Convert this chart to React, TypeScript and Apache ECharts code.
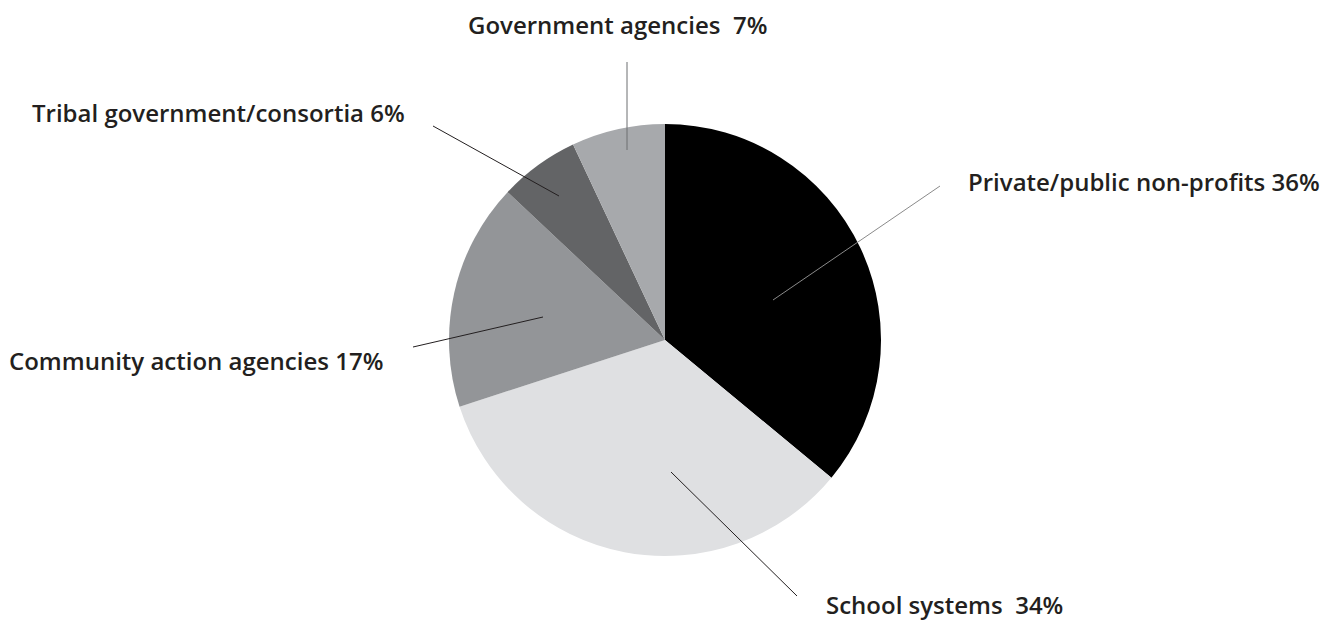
import React, { useEffect, useRef } from "react";
import * as echarts from "echarts";

const categories = [
  "Private/public non-profits",
  "School systems",
  "Community action agencies",
  "Tribal government/consortia",
  "Government agencies",
];
const values = [36, 34, 17, 6, 7];
const gaps = [" ", "  ", " ", " ", "  "];
const sliceColors = ["#000000", "#dfe0e2", "#939598", "#636466", "#a7a9ac"];
const leaderColors = ["#8a8a8a", "#231f20", "#231f20", "#231f20", "#6d6e71"];

// label layout (pixels): text anchor and leader line start/end
const labelPos = [
  [968, 181],
  [826, 604],
  [9, 360],
  [32, 112],
  [468, 24],
];
const lineFrom = [
  [773, 300],
  [671, 472],
  [543, 317],
  [559, 196],
  [627, 150],
];
const lineTo = [
  [940, 186],
  [797, 596],
  [413, 347],
  [433, 126],
  [627, 62],
];

export default function App() {
  const ref = useRef<HTMLDivElement>(null);
  useEffect(() => {
    if (!ref.current) return;
    const chart = echarts.init(ref.current, undefined, { renderer: "svg" });
    const base = {
      type: "pie",
      center: [665, 340],
      radius: [0, 216],
      startAngle: 90,
      clockwise: true,
      silent: true,
      avoidLabelOverlap: false,
    };
    chart.setOption({
      animation: false,
      backgroundColor: "#ffffff",
      series: [
        {
          ...base,
          z: 1,
          itemStyle: { borderWidth: 0 },
          label: { show: false },
          labelLine: { show: false },
          data: categories.map((name, i) => ({
            name,
            value: values[i],
            itemStyle: { color: sliceColors[i] },
          })),
        },
        {
          ...base,
          z: 3,
          itemStyle: { color: "rgba(0,0,0,0)", borderWidth: 0 },
          label: {
            show: true,
            position: "outside",
            color: "#231f20",
            fontFamily: "Open Sans",
            fontWeight: 600,
            fontSize: 24,
            formatter: (p: any) => `${p.name}${gaps[p.dataIndex]}${p.value}%`,
          },
          labelLine: { show: true, lineStyle: { width: 1 } },
          labelLayout: (p: any) => {
            const i = p.dataIndex;
            return {
              x: labelPos[i][0],
              y: labelPos[i][1],
              align: "left",
              verticalAlign: "middle",
              labelLinePoints: [lineFrom[i], lineTo[i], lineTo[i]],
            };
          },
          data: categories.map((name, i) => ({
            name,
            value: values[i],
            labelLine: { lineStyle: { color: leaderColors[i], width: 1 } },
          })),
        },
      ],
    });
    return () => chart.dispose();
  }, []);
  return (
    <div
      ref={ref}
      style={{ position: "fixed", left: 0, top: 0, width: 1328, height: 620 }}
    />
  );
}
